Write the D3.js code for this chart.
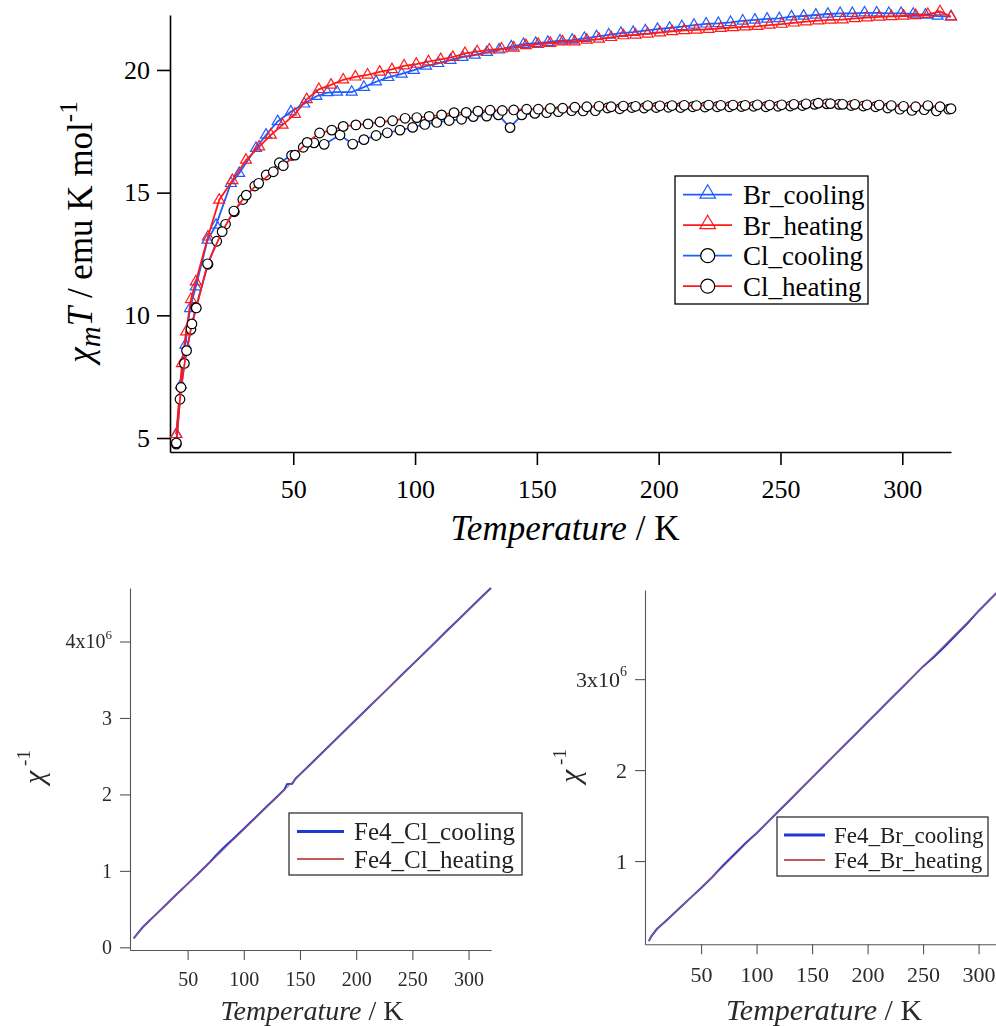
<!DOCTYPE html>
<html>
<head>
<meta charset="utf-8">
<script src="https://cdn.jsdelivr.net/npm/d3@7"></script>
<style>
  html, body { margin: 0; padding: 0; background: #fff; }
  svg { display: block; font-family: "Liberation Serif", "Times New Roman", serif; }
</style>
</head>
<body>
<svg id="fig" width="996" height="1026"></svg>
<script>
// ---------- χmT vs T (emu K mol^-1) ----------
const brCoolT = [2,3.9,5.7,7.6,10,14.8,18.3,24.4,27.8,34.7,38.8,43.6,49,54.5,59.5,64,68,74,79,84,89,94.5,99.5,104.5,109.5,
  114.5,119.5,124.5,129.5,134.5,139.5,144.5,149.5,154.5,159.5,164.5,169.5,174.5,179.5,184.5,189.5,194.5,199.5,204.5,209.5,
  214.5,219.5,224.5,229.5,234.5,239.5,244.5,249.5,254.5,259.5,264.5,269.5,274.5,279.5,284.5,289.5,294.5,299.5,304.5,309.5,314.5,320];
const brCoolV = [5.15,7.16,8.79,10.28,11.17,13.07,13.68,15.38,15.79,16.81,17.35,17.9,18.3,18.62,18.93,19.08,19.1,19.1,19.3,19.52,
  19.7,19.84,19.99,20.16,20.27,
  20.4,20.52,20.61,20.72,20.82,20.95,21.05,21.09,21.13,21.19,21.22,21.29,21.36,21.43,21.5,21.54,21.6,21.66,21.71,21.77,
  21.83,21.88,21.9,21.94,22.0,22.04,22.08,22.1,22.17,22.2,22.24,22.28,22.31,22.31,22.33,22.33,22.31,22.31,22.28,22.24,22.2,22.17];

const brHeatT = [2,4.3,6,8,10,15,19.6,25,30.6,36,40.8,45.6,50.7,
  55.5,60.5,65.5,70.5,75.5,80.5,85.5,90.5,95.5,100.5,105.5,110.5,115.5,120.5,125.5,130.5,135.5,140.5,145.5,150.5,155.5,
  160.5,165.5,170.5,175.5,180.5,185.5,190.5,195.5,200.5,205.5,210.5,215.5,220.5,225.5,230.5,235.5,240.5,245.5,250.5,255.5,
  260.5,265.5,270.5,275.5,280.5,285.5,290.5,295.5,300.5,305.5,310.5,315.5,320];
const brHeatV = [5.15,8.04,9.33,10.65,11.37,13.2,14.7,15.5,16.33,16.87,17.35,17.76,18.2,
  18.8,19.21,19.39,19.6,19.72,19.8,19.92,20.02,20.17,20.24,20.34,20.43,20.52,20.68,20.75,20.82,20.86,20.9,21.0,21.05,21.09,
  21.15,21.15,21.22,21.26,21.33,21.4,21.43,21.47,21.52,21.57,21.61,21.63,21.66,21.7,21.73,21.76,21.78,21.83,21.87,21.92,
  21.97,22.01,22.04,22.05,22.1,22.13,22.16,22.18,22.2,22.22,22.27,22.38,22.17];

const clCoolT = [2,3.5,5.3,8,10,15,18.6,22.2,25.8,29.3,34.2,38.9,44.3,49.3,54.1,58.5,62.7,69.2,74.4,79,84,88.6,93.8,99,104,
  108.9,114,119.1,123.9,129.4,134.2,139,143.8,149.2,154,158.8,164.3,169,
  174,179,184,189,194,199,204,209,214,219,224,229,234,239,244,249,254,259,264,269,274,279,284,289,294,299,304,309,314,319];
const clCoolV = [4.75,6.58,8.04,9.43,10.32,12.08,13.02,13.71,14.22,14.72,15.27,15.72,16.22,16.52,16.85,17.03,16.97,17.35,16.98,
  17.16,17.33,17.44,17.55,17.66,17.78,17.86,17.94,17.99,18.1,18.12,18.17,17.65,18.17,18.23,18.26,18.3,18.34,18.33,
  18.34,18.45,18.42,18.47,18.45,18.47,18.48,18.47,18.5,18.49,18.5,18.5,18.51,18.52,18.5,18.52,18.53,18.55,18.6,18.62,
  18.6,18.55,18.53,18.5,18.45,18.4,18.35,18.38,18.33,18.4];

const clHeatT = [2,3.9,6.2,8.4,10.2,14.8,20.8,25.6,30.7,35.8,41.8,45.9,50.7,55.7,60.8,65.8,70.5,75.7,80.7,85.6,90.8,95.9,100.7,
  105.8,110.9,116,121,125.8,130.8,135.8,140.5,145.8,150.6,155.5,160.6,165.6,170.5,
  175.5,180.5,185.5,190.5,195.5,200.5,205.5,210.5,215.5,220.5,225.5,230.5,235.5,240.5,245.5,250.5,255.5,260.5,265.5,
  270.5,275.5,280.5,285.5,290.5,295.5,300.5,305.5,310.5,315.5,320];
const clHeatV = [4.8,7.06,8.56,9.65,10.3,12.1,13.41,14.25,14.9,15.38,15.85,16.1,16.53,17.05,17.43,17.55,17.7,17.76,17.8,17.88,
  17.93,18.03,18.06,18.11,18.17,18.26,18.27,18.32,18.36,18.35,18.37,18.4,18.4,18.43,18.44,18.48,18.5,
  18.52,18.5,18.53,18.52,18.55,18.54,18.55,18.56,18.55,18.57,18.56,18.57,18.56,18.58,18.57,18.58,18.6,18.62,18.65,
  18.63,18.6,18.6,18.58,18.57,18.55,18.52,18.5,18.55,18.5,18.42];

const topTicksX = [50,100,150,200,250,300];
const topTicksY = [5,10,15,20];
const topLegend = ["Br_cooling","Br_heating","Cl_cooling","Cl_heating"];

// ---------- χ^-1 vs T (×10^6) ----------
const clInvCoolT = [2,5,10,15,20,30,40,50,60,70,75,80,85,90,100,110,120,130,136,138.5,143,146,150,160,170,180,190,200,
  210,220,230,240,250,260,270,280,290,300,310,320];
const clInvCoolV = [0.118,0.172,0.262,0.335,0.405,0.548,0.69,0.83,0.972,1.118,1.2,1.272,1.345,1.41,1.552,1.692,1.835,1.975,
  2.062,2.135,2.14,2.205,2.262,2.405,2.548,2.692,2.836,2.98,3.124,3.266,3.41,3.555,3.698,3.84,3.984,4.13,4.272,4.416,4.56,4.702];
const clInvHeatT = [2,5,10,15,20,30,40,50,60,70,80,90,100,110,120,130,140,150,160,170,180,190,200,210,220,230,240,250,
  260,270,280,290,300,310,320];
const clInvHeatV = [0.118,0.168,0.26,0.333,0.402,0.545,0.686,0.826,0.966,1.108,1.25,1.395,1.538,1.682,1.826,1.97,2.112,
  2.256,2.4,2.543,2.688,2.832,2.975,3.12,3.262,3.405,3.55,3.694,3.838,3.98,4.124,4.268,4.41,4.552,4.69];

const brInvT = [3,5,10,20,30,40,50,60,70,80,90,100,110,120,130,140,150,160,170,180,190,200,210,220,230,240,250,260,
  270,280,290,300,310,320];
const brInvCoolV = [0.12,0.17,0.25,0.36,0.475,0.59,0.705,0.822,0.955,1.075,1.195,1.305,1.428,1.55,1.672,1.795,1.917,2.04,
  2.162,2.284,2.406,2.528,2.65,2.773,2.895,3.017,3.14,3.245,3.365,3.49,3.615,3.75,3.873,3.995];
const brInvHeatV = [0.12,0.17,0.25,0.36,0.475,0.59,0.705,0.822,0.94,1.06,1.183,1.305,1.428,1.55,1.672,1.795,1.917,2.04,
  2.162,2.284,2.406,2.528,2.65,2.773,2.895,3.017,3.14,3.262,3.384,3.506,3.628,3.75,3.873,3.995];

const invTicksX = [50,100,150,200,250,300];
const clInvTicksY = [0,1,2,3,4];
const brInvTicksY = [1,2,3];
const clInvLegend = ["Fe4_Cl_cooling","Fe4_Cl_heating"];
const brInvLegend = ["Fe4_Br_cooling","Fe4_Br_heating"];

// ---------- drawing ----------
const BLUE = "#1f5cff", RED = "#ff1a1a";
const INV_BLUE = "#1b3ad6", INV_RED = "#c45a5a";
const svg = d3.select("#fig");

const defs = svg.append("defs");
defs.append("filter").attr("id", "soft").attr("x", "-5%").attr("y", "-5%").attr("width", "110%").attr("height", "110%")
  .append("feGaussianBlur").attr("stdDeviation", 0.45);

// ===== main panel =====
const gTop = svg.append("g");
const x1 = d3.scaleLinear().domain([-0.6, 320]).range([170, 951]);
const y1 = d3.scaleLinear().domain([4.43, 22.24]).range([452, 15]);

const ax1 = gTop.append("g").attr("transform", "translate(0,452)")
  .call(d3.axisBottom(x1).tickValues(topTicksX).tickSize(13).tickSizeOuter(0).tickPadding(15).tickFormat(d3.format("d")));
const ay1 = gTop.append("g").attr("transform", "translate(170,0)")
  .call(d3.axisLeft(y1).tickValues(topTicksY).tickSize(13).tickSizeOuter(0).tickPadding(7).tickFormat(d3.format("d")));
[ax1, ay1].forEach(a => {
  a.select(".domain").attr("stroke", "#000").attr("stroke-width", 1.6);
  a.selectAll(".tick line").attr("stroke", "#000").attr("stroke-width", 1.6);
  a.selectAll(".tick text").attr("fill", "#000").style("font-size", "26px").style("font-family", "Liberation Serif");
});

const line1 = d3.line().x(d => x1(d[0])).y(d => y1(d[1]));
const tri = d3.symbol(d3.symbolTriangle, 52);

function drawTriSeries(T, V, color) {
  const pts = d3.zip(T, V);
  gTop.append("path").datum(pts).attr("d", line1).attr("fill", "none").attr("stroke", color).attr("stroke-width", 1.8);
  gTop.append("g").selectAll("path").data(pts).join("path")
    .attr("d", tri).attr("transform", d => `translate(${x1(d[0])},${y1(d[1])})`)
    .attr("fill", "none").attr("stroke", color).attr("stroke-width", 1.2);
}
function drawCircSeries(T, V, color) {
  const pts = d3.zip(T, V);
  gTop.append("path").datum(pts).attr("d", line1).attr("fill", "none").attr("stroke", color).attr("stroke-width", 1.8);
  gTop.append("g").selectAll("circle").data(pts).join("circle")
    .attr("cx", d => x1(d[0])).attr("cy", d => y1(d[1])).attr("r", 4.8)
    .attr("fill", "#fff").attr("stroke", "#000").attr("stroke-width", 1.2);
}
drawTriSeries(brCoolT, brCoolV, BLUE);
drawTriSeries(brHeatT, brHeatV, RED);
drawCircSeries(clCoolT, clCoolV, BLUE);
drawCircSeries(clHeatT, clHeatV, RED);

// axis titles
const yTitle = gTop.append("text").attr("transform", "translate(92,232) rotate(-90)")
  .attr("text-anchor", "middle").style("font-size", "35px").attr("fill", "#000");
yTitle.append("tspan").style("font-style", "italic").text("χ");
yTitle.append("tspan").style("font-style", "italic").style("font-size", "29px").attr("dy", 8).text("m");
yTitle.append("tspan").style("font-style", "italic").attr("dy", -8).text("T");
yTitle.append("tspan").text(" / emu K mol");
yTitle.append("tspan").style("font-size", "25px").attr("dy", -15).text("-1");

const xTitle = gTop.append("text").attr("x", 565).attr("y", 540).attr("text-anchor", "middle")
  .style("font-size", "35px").attr("fill", "#000");
xTitle.append("tspan").style("font-style", "italic").text("Temperature");
xTitle.append("tspan").text(" / K");

// legend
const lg = gTop.append("g");
lg.append("rect").attr("x", 675).attr("y", 176).attr("width", 193).attr("height", 128)
  .attr("fill", "#fff").attr("stroke", "#000").attr("stroke-width", 1.3);
const legColors = [BLUE, RED, BLUE, RED];
const legTri = d3.symbol(d3.symbolTriangle, 105);
topLegend.forEach((name, i) => {
  const cy = 194.7 + i * 30.5;
  lg.append("line").attr("x1", 683).attr("x2", 732).attr("y1", cy).attr("y2", cy)
    .attr("stroke", legColors[i]).attr("stroke-width", 1.8);
  if (i < 2) {
    lg.append("path").attr("d", legTri).attr("transform", `translate(707.7,${cy - 1})`)
      .attr("fill", "none").attr("stroke", legColors[i]).attr("stroke-width", 1.2);
  } else {
    lg.append("circle").attr("cx", 707.7).attr("cy", cy).attr("r", 7)
      .attr("fill", "#fff").attr("stroke", "#000").attr("stroke-width", 1.2);
  }
  lg.append("text").attr("x", 743).attr("y", cy).attr("dy", "0.35em")
    .style("font-size", "27px").attr("fill", "#000").text(name);
});

// ===== inverse susceptibility panels =====
function invPanel(cfg) {
  const g = svg.append("g").attr("filter", "url(#soft)");
  const x = d3.scaleLinear().domain(cfg.xDomain).range(cfg.xRange);
  const y = d3.scaleLinear().domain(cfg.yDomain).range(cfg.yRange);
  const ax = g.append("g").attr("transform", `translate(0,${cfg.yRange[0]})`)
    .call(d3.axisBottom(x).tickValues(invTicksX).tickSize(10).tickSizeOuter(0).tickPadding(12).tickFormat(d3.format("d")));
  const ay = g.append("g").attr("transform", `translate(${cfg.xRange[0]},0)`)
    .call(d3.axisLeft(y).tickValues(cfg.yTicks).tickSize(10).tickSizeOuter(0).tickPadding(cfg.yPad).tickFormat(d3.format("d")));
  [ax, ay].forEach(a => {
    a.select(".domain").attr("stroke", "#555").attr("stroke-width", 1.1);
    a.selectAll(".tick line").attr("stroke", "#555").attr("stroke-width", 1.1);
    a.selectAll(".tick text").attr("fill", "#2a2a2a").style("font-size", cfg.tickFont + "px")
      .style("font-family", "Liberation Serif");
  });
  // top tick label carries the ×10^6 factor
  ay.selectAll(".tick").filter(d => d === cfg.yTicks[cfg.yTicks.length - 1]).select("text")
    .each(function(d) {
      const t = d3.select(this).text("");
      t.append("tspan").text(d + "x10");
      t.append("tspan").style("font-size", Math.round(cfg.tickFont * 0.65) + "px").attr("dy", "-0.75em").text("6");
    });

  const ln = d3.line().x(d => x(d[0])).y(d => y(d[1]));
  g.append("path").datum(d3.zip(cfg.coolT, cfg.coolV)).attr("d", ln).attr("fill", "none")
    .attr("stroke", INV_BLUE).attr("stroke-width", 2);
  g.append("path").datum(d3.zip(cfg.heatT, cfg.heatV)).attr("d", ln).attr("fill", "none")
    .attr("stroke", INV_RED).attr("stroke-width", 1.1).attr("stroke-opacity", 0.8);

  const xt = g.append("text").attr("x", cfg.xTitle[0]).attr("y", cfg.xTitle[1]).attr("text-anchor", "middle")
    .style("font-size", cfg.titleFont + "px").attr("fill", "#2a2a2a");
  xt.append("tspan").style("font-style", "italic").text("Temperature");
  xt.append("tspan").text(" / K");

  const yt = g.append("text").attr("transform", `translate(${cfg.yTitle[0]},${cfg.yTitle[1]}) rotate(-90)`)
    .attr("text-anchor", "middle").style("font-size", "30px").attr("fill", "#2a2a2a");
  yt.append("tspan").style("font-style", "italic").text("χ");
  yt.append("tspan").style("font-size", "19px").attr("dy", -14).text(" -1");

  const lgd = g.append("g");
  lgd.append("rect").attr("x", cfg.leg.x).attr("y", cfg.leg.y).attr("width", cfg.leg.w).attr("height", cfg.leg.h)
    .attr("fill", "#fff").attr("stroke", "#222").attr("stroke-width", 1.2);
  cfg.names.forEach((name, i) => {
    const cy = cfg.leg.rows[i];
    lgd.append("line").attr("x1", cfg.leg.l1).attr("x2", cfg.leg.l2).attr("y1", cy).attr("y2", cy)
      .attr("stroke", i === 0 ? INV_BLUE : INV_RED).attr("stroke-width", i === 0 ? 3 : 2);
    lgd.append("text").attr("x", cfg.leg.tx).attr("y", cy).attr("dy", "0.35em")
      .style("font-size", cfg.leg.font + "px").attr("fill", "#222").text(name);
  });
}

invPanel({
  xDomain: [-1.3, 320], xRange: [130, 491],
  yDomain: [-0.035, 4.70], yRange: [950, 588],
  yTicks: clInvTicksY, yPad: 8, tickFont: 20, titleFont: 28,
  coolT: clInvCoolT, coolV: clInvCoolV, heatT: clInvHeatT, heatV: clInvHeatV,
  xTitle: [312, 1020], yTitle: [44, 767],
  names: clInvLegend,
  leg: { x: 289, y: 813, w: 233, h: 62, rows: [831.5, 859], l1: 297, l2: 344, tx: 354, font: 25 }
});

invPanel({
  xDomain: [-0.5, 320], xRange: [645, 1000.8],
  yDomain: [0.085, 3.98], yRange: [944.3, 590],
  yTicks: brInvTicksY, yPad: 8, tickFont: 22, titleFont: 30,
  coolT: brInvT, coolV: brInvCoolV, heatT: brInvT, heatV: brInvHeatV,
  xTitle: [824, 1020], yTitle: [580, 766],
  names: brInvLegend,
  leg: { x: 777, y: 817, w: 211, h: 59, rows: [835, 860], l1: 784, l2: 825, tx: 834, font: 23 }
});
</script>
</body>
</html>
